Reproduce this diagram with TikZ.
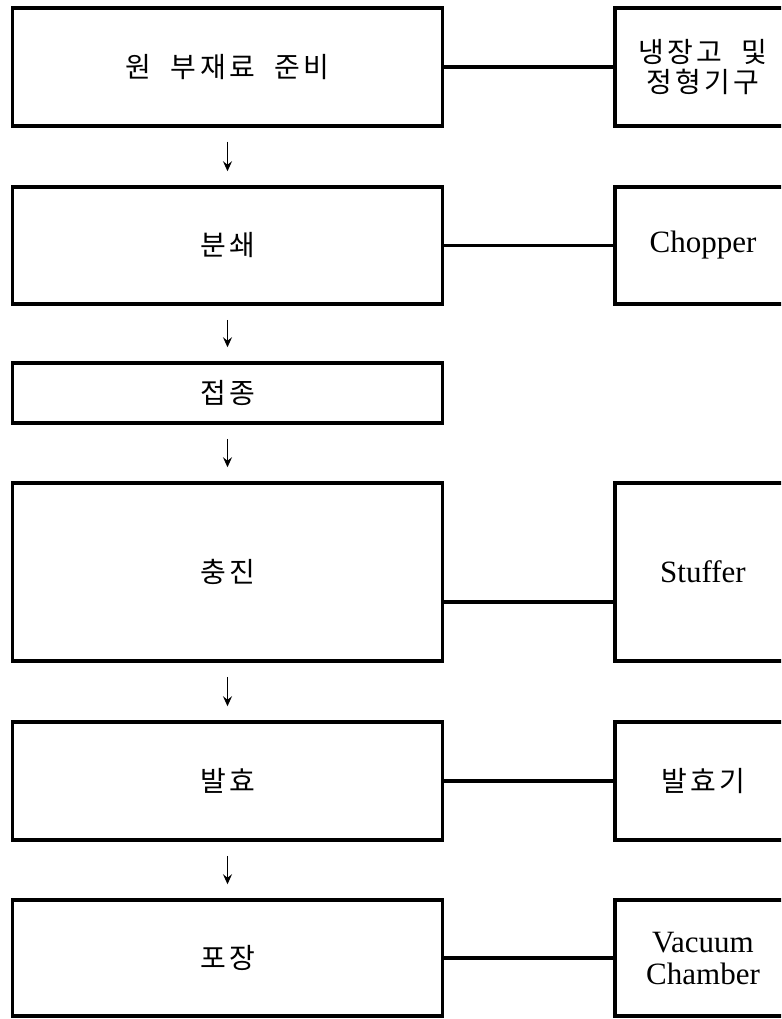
\documentclass[tikz,border=0pt]{standalone}
\usepackage{fontspec}
\setmainfont{Liberation Serif}
\newfontfamily\kr[LetterSpace=12,WordSpace=2]{Noto Sans CJK KR}
\usetikzlibrary{arrows.meta}
\tikzset{
  box/.style={draw, line width=3.5pt, rectangle, inner sep=0pt, minimum width=430pt, align=center},
  rbox/.style={draw, line width=3.5pt, rectangle, inner sep=0pt, minimum width=176pt, align=center},
  link/.style={line width=3.5pt},
  flow/.style={line width=1.2pt, -{Stealth[length=10pt,width=9pt,inset=3.5pt]}, shorten <=14pt, shorten >=14pt},
  ktext/.style={font=\kr\fontsize{28}{30}\selectfont},
  ltext/.style={font=\fontsize{31}{32}\selectfont}
}
\begin{document}
\begin{tikzpicture}[x=1pt,y=-1pt]
\useasboundingbox (0,0) rectangle (781,1019);
\clip (0,0) rectangle (781,1019);
% left process boxes
\node[box, ktext, minimum height=118pt] (l1) at (227.5,67) {원 부재료 준비};
\node[box, ktext, minimum height=117pt] (l2) at (227.5,245.5) {분쇄};
\node[box, ktext, minimum height=60pt]  (l3) at (227.5,393) {접종};
\node[box, ktext, minimum height=178pt] (l4) at (227.5,572) {충진};
\node[box, ktext, minimum height=118pt] (l5) at (227.5,781) {발효};
\node[box, ktext, minimum height=116pt] (l6) at (227.5,958) {포장};
% right equipment boxes
\node[rbox, ktext, minimum height=118pt] (r1) at (703,67) {냉장고 및\\정형기구};
\node[rbox, ltext, minimum height=117pt] (r2) at (703,245.5) {Chopper};
\node[rbox, ltext, minimum height=178pt] (r4) at (703,572) {Stuffer};
\node[rbox, ktext, minimum height=118pt] (r5) at (703,781) {발효기};
\node[rbox, ltext, minimum height=116pt] (r6) at (703,958) {Vacuum\\Chamber};
% connectors
\draw[link] (l1.east) -- (r1.west);
\draw[link] (l2.east) -- (r2.west);
\draw[link] ([yshift=-30pt]l4.east) -- ([yshift=-30pt]r4.west);
\draw[link] (l5.east) -- (r5.west);
\draw[link] (l6.east) -- (r6.west);
% flow arrows
\draw[flow] (l1.south) -- (l2.north);
\draw[flow] (l2.south) -- (l3.north);
\draw[flow] (l3.south) -- (l4.north);
\draw[flow] (l4.south) -- (l5.north);
\draw[flow] (l5.south) -- (l6.north);
\end{tikzpicture}
\end{document}
